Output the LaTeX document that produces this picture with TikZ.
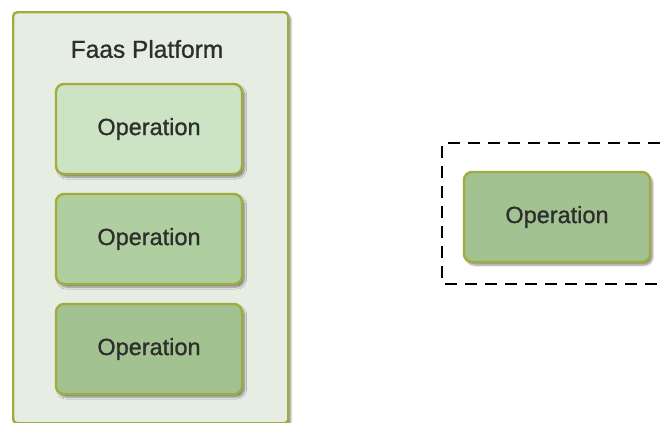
\documentclass[tikz,border=0pt]{standalone}
\usepackage{fontspec}
\setmainfont{Liberation Sans}[FakeBold=1]
\usetikzlibrary{shadows.blur}
\definecolor{olive}{HTML}{A2AB3E}
\definecolor{platfill}{HTML}{E6EEE4}
\definecolor{opA}{HTML}{CDE4C4}
\definecolor{opB}{HTML}{B0CFA0}
\definecolor{opC}{HTML}{A2C391}
\definecolor{txt}{HTML}{2E2E2E}
\tikzset{
  shadowed/.style={blur shadow={shadow xshift=2.5pt, shadow yshift=-3pt, shadow blur steps=6, shadow opacity=45}},
  platform/.style={draw=olive, line width=2.4pt, fill=platfill, rounded corners=4pt, shadowed},
  opbox/.style={draw=olive, line width=2.4pt, rounded corners=8pt, shadowed,
    minimum width=186pt, minimum height=90pt, inner sep=0pt,
    font=\fontsize{23.5}{26}\selectfont, text=txt},
  scopebox/.style={draw=black, line width=2.8pt, dash pattern=on 12pt off 8pt},
}
\begin{document}
\begin{tikzpicture}[x=1pt, y=-1pt]
  \useasboundingbox (0,0) rectangle (665,423);
  % platform container
  \node[platform, minimum width=275pt, minimum height=411pt, anchor=north west, inner sep=0pt] (plat) at (12,11) {};
  \node[font=\fontsize{24.5}{27}\selectfont, text=txt] (title) at (147,49) {Faas Platform};
  % operations inside the platform
  \node[opbox, fill=opA] (op1) at (149,129) {Operation};
  \node[opbox, fill=opB] (op2) at (149,239) {Operation};
  \node[opbox, fill=opC] (op3) at (149,349) {Operation};
  % detached operation within a dashed boundary
  \draw[scopebox, rounded corners=2pt] (700,143) -- (442,143) -- (442,284) -- (700,284);
  \node[opbox, fill=opC] (op4) at (557,217) {Operation};
\end{tikzpicture}
\end{document}
